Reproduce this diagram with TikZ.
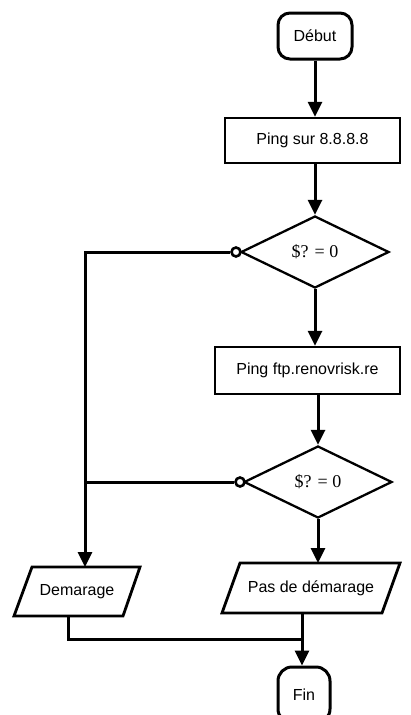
\documentclass[tikz,border=0pt]{standalone}
\usepackage{fontspec}
\setmainfont{Liberation Sans}
\newfontfamily\serifface{Liberation Serif}
\usetikzlibrary{arrows.meta,shapes.geometric}
\tikzset{
  term/.style={draw,line width=3pt,rounded corners=12pt,inner sep=0pt,font=\fontsize{16}{18}\selectfont},
  procbox/.style={draw,line width=2.3pt,inner sep=0pt,font=\fontsize{16}{18}\selectfont},
  decision/.style={draw,diamond,line width=2.3pt,inner sep=0pt,aspect=2,minimum width=148pt,minimum height=72pt,font=\serifface\fontsize{18}{20}\selectfont},
  iolabel/.style={inner sep=0pt,font=\fontsize{16}{18}\selectfont},
  ioshape/.style={line width=2.8pt,line join=miter},
  conn/.style={line width=3pt,-{Triangle[length=15pt,width=14pt]}},
  plain/.style={line width=3pt},
  ring/.style={circle,draw,line width=2.6pt,fill=white,inner sep=0pt,minimum size=9pt},
}
\begin{document}
\begin{tikzpicture}[x=1pt,y=-1pt]
\useasboundingbox (0,0) rectangle (411,715);
\begin{scope}
\clip (0,0) rectangle (411,715);
% nodes
\node[term,minimum width=74pt,minimum height=46pt] (debut) at (315,36) {Début};
\node[procbox,minimum width=175pt,minimum height=45pt] (ping1) at (312.5,140.5) {Ping sur 8.8.8.8};
\node[decision] (d1) at (315,252) {\$? = 0};
\node[procbox,minimum width=185pt,minimum height=47pt] (ping2) at (307.5,370.5) {Ping ftp.renovrisk.re};
\node[decision] (d2) at (318,482) {\$? = 0};
\node[ring] (r1) at (236,252) {};
\node[ring] (r2) at (240,482) {};
% parallelograms
\draw[ioshape] (32,567) -- (140,567) -- (123,616) -- (14,616) -- cycle;
\node[iolabel] (dem) at (77,591.5) {Demarage};
\coordinate (demtop) at (85,567);
\coordinate (dembot) at (68,616);
\draw[ioshape] (240,563) -- (400,563) -- (382,613) -- (222,613) -- cycle;
\node[iolabel] (pas) at (311,588) {Pas de démarage};
\coordinate (pastop) at (318,563);
\coordinate (pasbot) at (302,613);
% Fin
\node[term,rounded corners=14pt,minimum width=52pt,minimum height=56pt] (fin) at (304,695) {Fin};
% connectors
\draw[conn] (debut.south) -- (ping1.north -| debut.south);
\draw[conn] (ping1.south -| d1.north) -- (d1.north);
\draw[conn] (d1.south) -- (d1.south |- ping2.north);
\draw[conn] (ping2.south -| d2.north) -- (d2.north);
\draw[conn] (d2.south) -- (pastop);
\draw[conn] (r1.west) -- (85,252) -- (demtop);
\draw[plain] (r2.west) -- (85,482);
\draw[plain] (dembot) -- (68,639) -- (302,639);
\draw[conn] (pasbot) -- (fin.north -| pasbot);
\end{scope}
\end{tikzpicture}
\end{document}
